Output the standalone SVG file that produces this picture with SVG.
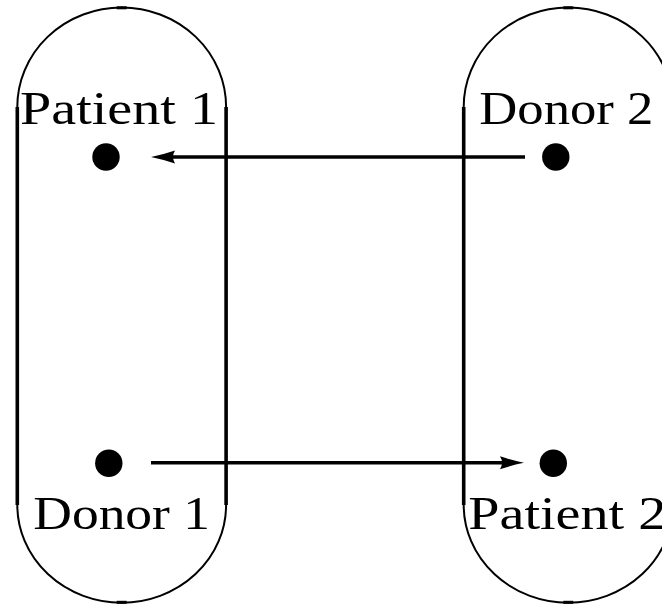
<svg xmlns="http://www.w3.org/2000/svg" width="662" height="605" viewBox="0 0 662 605">
  <defs>
    <style>
      .side { stroke: #000; stroke-width: 3.6; fill: none; }
      .cap { stroke: #000; stroke-width: 2; fill: none; }
      .tick { stroke: #000; stroke-width: 3; }
      .dot { fill: #000; }
      .label { font-family: "Liberation Serif", "DejaVu Serif", serif; font-size: 47px; fill: #000; }
      .edge { stroke: #000; stroke-width: 3.4; fill: none; marker-end: url(#head); }
    </style>
    <marker id="head" markerUnits="userSpaceOnUse" markerWidth="24" markerHeight="14" refX="2" refY="7" orient="auto" viewBox="0 0 24 14">
      <path d="M0,0.5 Q11,4.3 24,7 Q11,9.7 0,13.5 Q4,7 0,0.5 Z" fill="#000"/>
    </marker>
  </defs>

  <!-- left pair outline -->
  <g id="pair-1">
    <path class="cap" d="M17.3,107 A104.4,99.5 0 0 1 226.1,107"/>
    <path class="cap" d="M17.3,505 A104.4,97.7 0 0 0 226.1,505"/>
    <line class="side" x1="17.3" y1="107" x2="17.3" y2="505"/>
    <line class="side" x1="226.1" y1="107" x2="226.1" y2="505"/>
    <line class="tick" x1="116.7" y1="7.8" x2="126.7" y2="7.8"/>
    <line class="tick" x1="116.7" y1="602.3" x2="126.7" y2="602.3"/>
  </g>

  <!-- right pair outline -->
  <g id="pair-2">
    <path class="cap" d="M463.7,107 A104.6,99.5 0 0 1 672.9,107"/>
    <path class="cap" d="M463.7,505 A104.6,97.7 0 0 0 672.9,505"/>
    <line class="side" x1="463.7" y1="107" x2="463.7" y2="505"/>
    <line class="side" x1="672.9" y1="107" x2="672.9" y2="505"/>
    <line class="tick" x1="563.3" y1="7.8" x2="573.3" y2="7.8"/>
    <line class="tick" x1="563.3" y1="602.3" x2="573.3" y2="602.3"/>
  </g>

  <g id="patient-1">
    <text class="label" x="20" y="124" textLength="198" lengthAdjust="spacingAndGlyphs">Patient 1</text>
    <circle class="dot" cx="106" cy="157" r="13.7"/>
  </g>

  <g id="donor-2">
    <text class="label" x="479.3" y="124" textLength="174" lengthAdjust="spacingAndGlyphs">Donor 2</text>
    <circle class="dot" cx="555.8" cy="157" r="13.7"/>
  </g>

  <g id="donor-1">
    <circle class="dot" cx="108.8" cy="463.3" r="13.7"/>
    <text class="label" x="33.3" y="529.3" textLength="176.7" lengthAdjust="spacingAndGlyphs">Donor 1</text>
  </g>

  <g id="patient-2">
    <circle class="dot" cx="553.3" cy="463.3" r="13.7"/>
    <text class="label" x="468.3" y="529.3" textLength="198" lengthAdjust="spacingAndGlyphs">Patient 2</text>
  </g>

  <!-- connectors -->
  <g id="connectors">
    <line class="edge" x1="525" y1="157" x2="173" y2="157"/>
    <line class="edge" x1="151" y1="462.8" x2="502" y2="462.8"/>
  </g>
</svg>
